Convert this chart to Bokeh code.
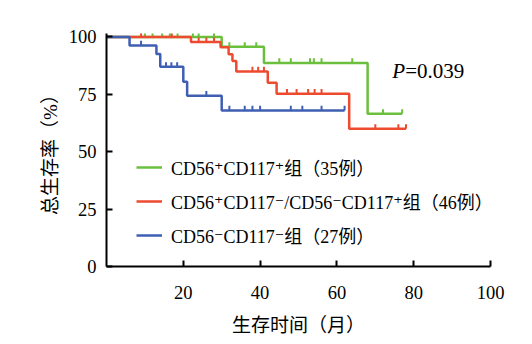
import math
from bokeh.plotting import figure
from bokeh.models import Range1d, FixedTicker, Legend, LegendItem, Label, ColumnDataSource
from bokeh.embed import file_html
from bokeh.resources import INLINE

# ---------------- data ----------------
# Kaplan-Meier step curves: change-point times (months) and survival (%)
green_t = [0, 30, 41, 68, 77]
green_s = [100, 95.7, 88.7, 66.5, 66.5]
green_cens_t = [10, 12, 14.5, 16.5, 18.5, 22.5, 24, 28, 32, 36, 39, 45, 48, 53, 54, 56, 64, 72, 77]
green_cens_s = [100, 100, 100, 100, 100, 100, 100, 100, 95.7, 95.7, 95.7,
                88.7, 88.7, 88.7, 88.7, 88.7, 88.7, 66.5, 66.5]

red_t = [0, 22, 29.7, 31.8, 32.8, 33.8, 42, 44.3, 63.2, 78]
red_s = [100, 97.8, 95.5, 92.5, 89.5, 85.0, 80.0, 75.3, 60.0, 60.0]
red_cens_t = [9, 17, 24, 26, 28, 38, 39.5, 41, 47, 49.5, 52.5, 54.2, 56, 70, 76, 78]
red_cens_s = [100, 100, 97.8, 97.8, 97.8, 85.0, 85.0, 85.0, 75.3, 75.3, 75.3, 75.3, 75.3,
              60.0, 60.0, 60.0]

blue_t = [0, 6, 13, 14, 20, 21, 30, 62]
blue_s = [100, 96.3, 92.6, 87.0, 80.5, 74.4, 68.0, 68.0]
blue_cens_t = [9, 15.5, 16.9, 18.4, 26, 32, 36, 38, 40, 48, 51, 56, 62]
blue_cens_s = [96.3, 87.0, 87.0, 87.0, 74.4, 68.0, 68.0, 68.0, 68.0, 68.0, 68.0, 68.0, 68.0]

group_labels = ["CD56⁺CD117⁺组（35例）",
                "CD56⁺CD117⁻/CD56⁻CD117⁺组（46例）",
                "CD56⁻CD117⁻组（27例）"]
x_ticks = [20, 40, 60, 80, 100]
y_ticks = [0, 25, 50, 75, 100]
x_label = "生存时间（月）"
y_label = "总生存率（%）"
p_value = "0.039"

# ---------------- styles ----------------
FONT = "'Liberation Serif', 'DejaVu Serif', 'Noto Sans CJK SC', serif"
GREEN = "#6abf3c"
RED = "#ee4a2f"
BLUE = "#3f5fb3"
TICK_LEN = 2.0  # censor tick length in % units

p = figure(width=524, height=338, output_backend="svg", toolbar_location=None,
           x_range=Range1d(0, 100), y_range=Range1d(0, 101.5),
           min_border_left=106, min_border_right=34, min_border_top=33, min_border_bottom=69)
p.background_fill_color = "white"
p.border_fill_color = "white"
p.outline_line_color = None
p.xgrid.visible = False
p.ygrid.visible = False

for ax in (p.xaxis[0], p.yaxis[0]):
    ax.axis_line_width = 2
    ax.axis_line_color = "black"
    ax.major_tick_in = 6
    ax.major_tick_out = 0
    ax.major_tick_line_width = 2
    ax.minor_tick_line_color = None
    ax.major_label_text_font = FONT
    ax.major_label_text_font_size = "18.5px"
    ax.major_label_text_color = "black"
    ax.axis_label_text_font = FONT
    ax.axis_label_text_font_size = "19px"
    ax.axis_label_text_font_style = "normal"
    ax.axis_label_text_color = "black"

p.xaxis.ticker = FixedTicker(ticks=x_ticks)
p.yaxis.ticker = FixedTicker(ticks=y_ticks)
p.xaxis.axis_label = x_label
p.yaxis.axis_label = y_label
p.xaxis.major_label_standoff = 19
p.xaxis.axis_label_standoff = 13
p.yaxis.major_label_standoff = 10
p.yaxis.axis_label_standoff = 5

items = []
groups = [(green_t, green_s, green_cens_t, green_cens_s, GREEN),
          (red_t, red_s, red_cens_t, red_cens_s, RED),
          (blue_t, blue_s, blue_cens_t, blue_cens_s, BLUE)]
for (t, s, ct, cs, col), lab in zip(groups, group_labels):
    ln = p.step(t, s, mode="after", line_color=col, line_width=2.5)
    src = ColumnDataSource(dict(x=ct, y0=cs, y1=[v + TICK_LEN for v in cs]))
    p.segment(x0="x", y0="y0", x1="x", y1="y1", source=src, line_color=col, line_width=2)
    mk = p.scatter(x=[], y=[], marker="dash", angle=math.pi / 2, size=8,
                   line_color=col, line_width=2, fill_color=None)
    items.append(LegendItem(label=lab, renderers=[ln, mk]))

legend = Legend(items=items, location=(30, 18), glyph_width=26, glyph_height=20,
                label_standoff=9, spacing=8, padding=0, margin=0,
                label_text_font=FONT, label_text_font_size="18px",
                label_text_color="black", border_line_color=None,
                background_fill_alpha=0)
p.add_layout(legend)

p.add_layout(Label(x=74.4, y=85.3, text="P", text_font=FONT, text_font_style="italic",
                   text_font_size="21px", text_baseline="middle", text_color="black"))
p.add_layout(Label(x=74.4, y=85.3, x_offset=13, text="=" + p_value, text_font=FONT,
                   text_font_size="21px", text_baseline="middle", text_color="black"))

open("out.html", "w").write(file_html(p, INLINE))
